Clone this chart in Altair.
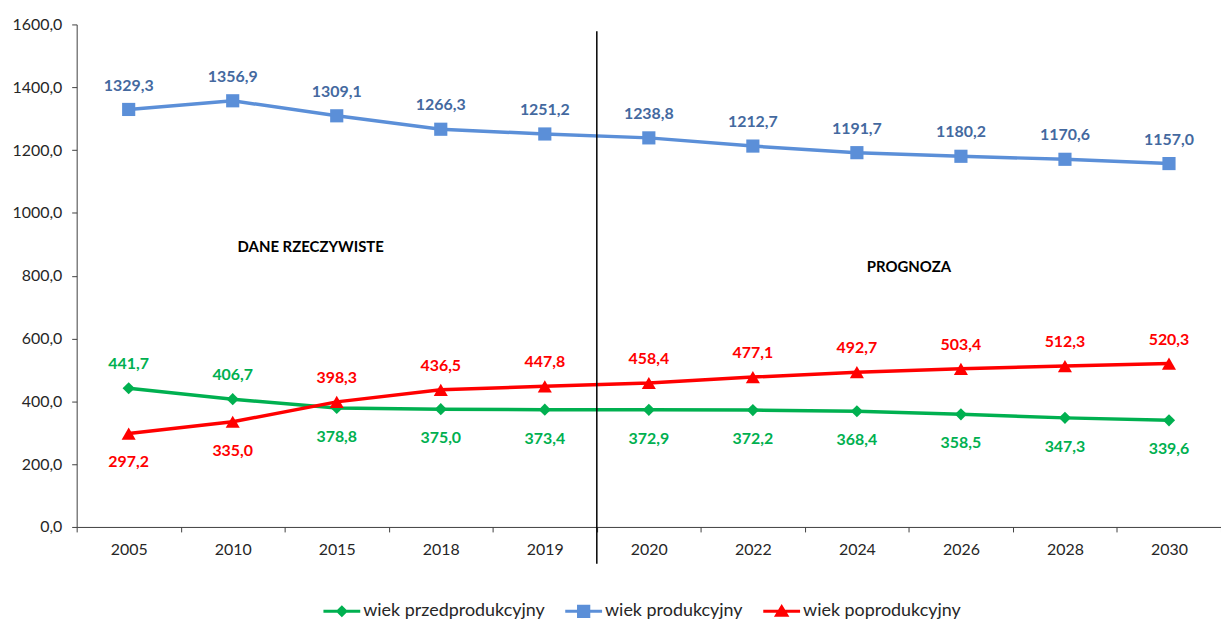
import altair as alt
import pandas as pd

years = ["2005", "2010", "2015", "2018", "2019", "2020", "2022", "2024", "2026", "2028", "2030"]
przed = [441.7, 406.7, 378.8, 375.0, 373.4, 372.9, 372.2, 368.4, 358.5, 347.3, 339.6]
prod = [1329.3, 1356.9, 1309.1, 1266.3, 1251.2, 1238.8, 1212.7, 1191.7, 1180.2, 1170.6, 1157.0]
popr = [297.2, 335.0, 398.3, 436.5, 447.8, 458.4, 477.1, 492.7, 503.4, 512.3, 520.3]

names = ["wiek przedprodukcyjny", "wiek produkcyjny", "wiek poprodukcyjny"]
line_colors = ["#00B050", "#5B8FD8", "#FF0000"]
text_colors = ["#00B050", "#44699F", "#FF0000"]
shapes = ["diamond", "square", "triangle-up"]
legend_paths = [
    "M-1,-0.08H1V0.08H-1Z M0,-0.33L0.33,0L0,0.33L-0.33,0Z",
    "M-1,-0.08H1V0.08H-1Z M-0.36,-0.36H0.36V0.36H-0.36Z",
    "M-1,-0.08H1V0.08H-1Z M0,-0.4L0.42,0.3H-0.42Z",
]

split_year = "2020"
rule_top, rule_bottom = 1578, -117
note_left, note_right = "DANE RZECZYWISTE", "PROGNOZA"

rows = []
for i, y in enumerate(years):
    rows.append({"year": y, "series": names[0], "value": przed[i], "above": przed[i] >= popr[i]})
    rows.append({"year": y, "series": names[1], "value": prod[i], "above": True})
    rows.append({"year": y, "series": names[2], "value": popr[i], "above": popr[i] > przed[i]})
df = pd.DataFrame(rows)

FONT = "Lato"

xscale = alt.Scale(type="band", domain=years, paddingInner=0, paddingOuter=0)
yscale = alt.Scale(domain=[0, 1600], nice=False)

xaxis = alt.Axis(title=None, labelAngle=0, tickBand="extent", tickSize=5,
                 labelPadding=10, labelFontSize=16, labelFont=FONT,
                 labelColor="#262626", domainColor="#404040", tickColor="#404040",
                 grid=False)
yaxis = alt.Axis(title=None, values=list(range(0, 1601, 200)), tickSize=5,
                 labelPadding=10, labelFontSize=16, labelFont=FONT,
                 labelColor="#262626", domainColor="#404040", tickColor="#404040",
                 labelExpr="replace(format(datum.value, '.1f'), '.', ',')",
                 grid=False)

X = alt.X("year:O", scale=xscale, sort=years, axis=xaxis)
Y = alt.Y("value:Q", scale=yscale, axis=yaxis)

base = alt.Chart(df)

lines = base.mark_line(strokeWidth=3.5).encode(
    x=X, y=Y,
    color=alt.Color("series:N", scale=alt.Scale(domain=names, range=line_colors), legend=None),
    detail="series:N",
)

points = base.mark_point(filled=True, opacity=1).encode(
    x=X, y=Y,
    color=alt.Color("series:N", scale=alt.Scale(domain=names, range=line_colors), legend=None),
    shape=alt.Shape("series:N", scale=alt.Scale(domain=names, range=shapes), legend=None),
    size=alt.Size("series:N", scale=alt.Scale(domain=names, range=[150, 200, 190]), legend=None),
)

lbl_expr = "replace(format(datum.value, '.1f'), '.', ',')"
txt_color = alt.Color("series:N", scale=alt.Scale(domain=names, range=text_colors), legend=None)

labels_above = base.transform_filter("datum.above").transform_calculate(lbl=lbl_expr).mark_text(
    font=FONT, fontSize=16, fontWeight="bold", baseline="middle", dy=-24
).encode(x=X, y=Y, text="lbl:N", color=txt_color)

labels_below = base.transform_filter("!datum.above").transform_calculate(lbl=lbl_expr).mark_text(
    font=FONT, fontSize=16, fontWeight="bold", baseline="middle", dy=29
).encode(x=X, y=Y, text="lbl:N", color=txt_color)

rule_df = pd.DataFrame({"year": [split_year], "value": [rule_top], "bottom": [rule_bottom]})
rule = alt.Chart(rule_df).mark_rule(color="black", strokeWidth=1.5, clip=False).encode(
    x=alt.X("year:O", scale=xscale, sort=years, bandPosition=0, axis=xaxis),
    y=Y,
    y2="bottom:Q",
)

note1 = alt.Chart(pd.DataFrame({"year": ["2015"], "value": [890], "t": [note_left]})).mark_text(
    font=FONT, fontSize=15, fontWeight="bold", color="black", baseline="middle"
).encode(x=alt.X("year:O", scale=xscale, sort=years, bandPosition=0.25, axis=xaxis),
         y=Y, text="t:N")

note2 = alt.Chart(pd.DataFrame({"year": ["2026"], "value": [827], "t": [note_right]})).mark_text(
    font=FONT, fontSize=15, fontWeight="bold", color="black", baseline="middle"
).encode(x=alt.X("year:O", scale=xscale, sort=years, bandPosition=0.0, axis=xaxis),
         y=Y, text="t:N")

leg = dict(title=None, orient="none", legendX=248, legendY=571,
           direction="horizontal", columns=3, columnPadding=20,
           labelOffset=3, symbolSize=1369, symbolStrokeWidth=0, labelLimit=400,
           labelFont=FONT, labelFontSize=18, labelColor="#262626", padding=0)

legend_layer = base.transform_filter("datum.value < 0").mark_point(filled=True, opacity=1).encode(
    color=alt.Color("series:N", scale=alt.Scale(domain=names, range=line_colors),
                    legend=alt.Legend(**leg)),
    shape=alt.Shape("series:N", scale=alt.Scale(domain=names, range=legend_paths),
                    legend=alt.Legend(**leg)),
)

chart = alt.layer(
    lines, points, rule, labels_above, labels_below, note1, note2, legend_layer
).resolve_scale(color="independent", shape="independent", size="independent").properties(
    width=1150, height=505,
    autosize=alt.AutoSizeParams(type="none"),
    padding={"left": 69, "top": 15, "right": 0, "bottom": 92},
).configure(background="white").configure_view(stroke=None)

chart.save("out.html", embed_options={"renderer": "svg", "actions": False})
